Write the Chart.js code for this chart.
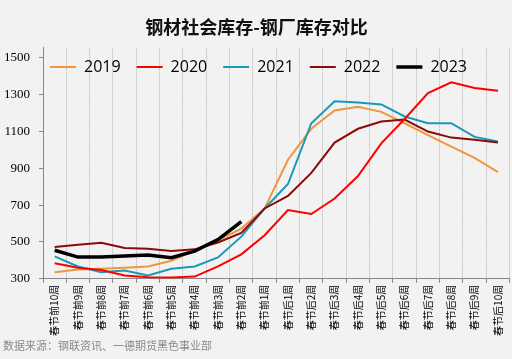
<!DOCTYPE html>
<html>
<head>
<meta charset="utf-8">
<script src="https://cdn.jsdelivr.net/npm/chart.js@4.4.1/dist/chart.umd.min.js"></script>
<style>
  html, body { margin: 0; padding: 0; background: #f2f2f2; }
  #wrap { width: 512px; height: 359px; position: relative; }
</style>
</head>
<body>
<div id="wrap"><canvas id="c"></canvas></div>
<script>
const categories = ['春节前10周','春节前9周','春节前8周','春节前7周','春节前6周','春节前5周','春节前4周','春节前3周','春节前2周','春节前1周',
                    '春节后1周','春节后2周','春节后3周','春节后4周','春节后5周','春节后6周','春节后7周','春节后8周','春节后9周','春节后10周'];
const yTickValues = [300, 500, 700, 900, 1100, 1300, 1500];
const seriesNames = ['2019', '2020', '2021', '2022', '2023'];
const s2019 = [335, 351, 355, 360, 367, 398, 453, 509, 573, 682, 947, 1115, 1214, 1235, 1207, 1145, 1080, 1018, 957, 880];
const s2020 = [385, 360, 348, 318, 309, 307, 312, 367, 433, 537, 674, 652, 736, 858, 1036, 1168, 1309, 1367, 1337, 1322];
const s2021 = [422, 367, 336, 345, 318, 355, 367, 416, 529, 682, 815, 1145, 1264, 1258, 1247, 1182, 1145, 1145, 1071, 1046];
const s2022 = [473, 485, 496, 467, 463, 451, 460, 497, 549, 682, 750, 875, 1040, 1115, 1154, 1165, 1100, 1067, 1056, 1040];
const s2023 = [455, 418, 418, 424, 429, 415, 450, 513, 611];

const colors = ['#F0963C', '#FF0000', '#1899B9', '#8B0A0A', '#000000'];
const widths = [2, 2, 2, 2, 3.5];
const orders = [4, 1, 3, 2, 0];
const allSeries = [s2019, s2020, s2021, s2022, s2023];

// Let the legend float over the plot area (Excel style) instead of taking layout space.
const legendOverlay = {
  id: 'legendOverlay',
  beforeLayout(chart) {
    const lg = chart.legend;
    if (lg && !lg._overlayPatched) {
      const origFit = lg.fit;
      lg.fit = function () { origFit.call(this); this.height = 0; };
      lg._overlayPatched = true;
    }
  },
  afterLayout(chart) {
    const lg = chart.legend;
    if (!lg) return;
    lg.left = 34; lg.right = 510;
    lg.top = 43; lg.bottom = 43 + 40;
    lg.width = lg.right - lg.left; lg.height = 40;
  }
};

const axisColor = '#868686';

new Chart(document.getElementById('c'), {
  type: 'line',
  data: {
    labels: categories,
    datasets: allSeries.map((d, i) => ({
      label: seriesNames[i],
      data: d,
      borderColor: colors[i],
      backgroundColor: colors[i],
      borderWidth: widths[i],
      pointRadius: 0,
      tension: 0,
      fill: false,
      order: orders[i]
    }))
  },
  options: {
    responsive: true,
    maintainAspectRatio: false,
    devicePixelRatio: 1,
    animation: false,
    layout: { padding: { left: 3, right: 2, top: 0, bottom: 0 } },
    plugins: {
      legend: {
        position: 'top',
        align: 'start',
        labels: {
          boxWidth: 26,
          boxHeight: 0,
          padding: 16,
          color: '#000',
          font: { family: 'Open Sans', size: 16 },
          sort: (a, b) => a.datasetIndex - b.datasetIndex
        }
      },
      title: {
        display: true,
        text: '钢材社会库存-钢厂库存对比',
        color: '#111',
        font: { family: 'Noto Sans CJK SC', size: 18, weight: 'bold', lineHeight: 1.2 },
        padding: { top: 16, bottom: 10 }
      },
      subtitle: {
        display: true,
        position: 'bottom',
        align: 'start',
        text: '数据来源：钢联资讯、一德期货黑色事业部',
        color: '#8a8a8a',
        font: { family: 'Noto Sans CJK SC', size: 11, lineHeight: 1.2 },
        padding: { top: 0, bottom: 7 }
      },
      tooltip: { enabled: false }
    },
    scales: {
      x: {
        offset: true,
        grid: {
          display: true,
          offset: true,
          color: '#c2c2c2',
          lineWidth: 1,
          drawTicks: true,
          tickLength: 4,
          tickColor: axisColor,
          tickWidth: 1
        },
        border: { display: true, color: axisColor, width: 1, dash: [2, 1] },
        ticks: {
          autoSkip: false,
          maxRotation: 90,
          minRotation: 90,
          padding: 2,
          color: '#000',
          font: { family: 'Noto Sans CJK SC', size: 10 }
        },
        afterFit(s) { s.height = 60; }
      },
      y: {
        min: 300,
        max: 1556,
        grid: {
          display: true,
          drawOnChartArea: false,
          drawTicks: true,
          tickLength: 4,
          tickColor: axisColor,
          color: axisColor
        },
        border: { display: true, color: axisColor, width: 1 },
        ticks: {
          padding: 9,
          color: '#000',
          font: { family: 'Liberation Serif', size: 13 },
          callback: (v) => String(v)
        },
        afterBuildTicks(s) { s.ticks = yTickValues.map(v => ({ value: v })); },
        afterFit(s) { s.width = 40; }
      }
    }
  },
  plugins: [legendOverlay]
});
</script>
</body>
</html>
